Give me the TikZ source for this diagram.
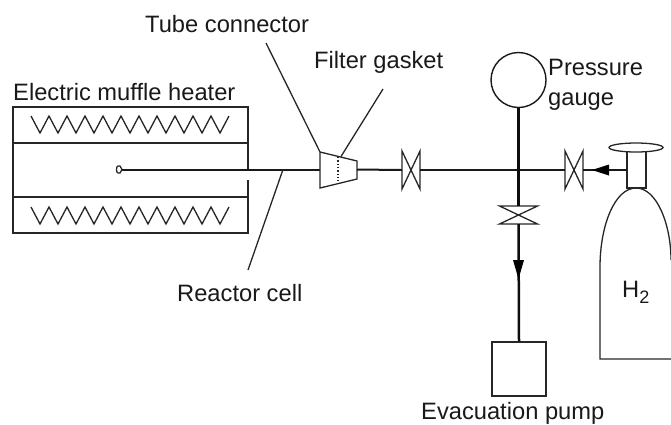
\documentclass[tikz,border=0pt]{standalone}
\usepackage{fontspec}
\setmainfont{Liberation Sans}
\usetikzlibrary{arrows.meta,shapes.geometric}
\tikzset{
  lbl/.style={inner sep=0pt,anchor=base west,font=\fontsize{23.7}{28}\selectfont,text=black!90},
  thin line/.style={draw=black!85,line width=1.3pt},
  mid line/.style={draw=black!90,line width=2pt},
  thick line/.style={draw=black!95,line width=2.5pt},
  hvalve/.style={inner sep=0pt,outer sep=0pt,minimum width=18pt,minimum height=38pt},
  vvalve/.style={inner sep=0pt,outer sep=0pt,minimum width=38pt,minimum height=18pt},
}
\begin{document}
\begin{tikzpicture}[x=1pt,y=-1pt]
\useasboundingbox (0,0) rectangle (671,424);
% labels
\node[lbl] (lheater) at (13,100) {Electric muffle heater};
\node[lbl] (ltube) at (145,32) {Tube connector};
\node[lbl] (lfilter) at (314,68) {Filter gasket};
\node[lbl] (lpress) at (548,75) {Pressure};
\node[lbl] (lgauge) at (548,105) {gauge};
\node[lbl] (lreactor) at (177,301) {Reactor cell};
\node[lbl] (lpump) at (421,419) {Evacuation pump};
\node[lbl] (lh) at (622,297) {H\raisebox{-6pt}{\fontsize{18}{20}\selectfont 2}};
% heater
\draw[thin line] (248,169) -- (248,107) -- (13,107) -- (13,233) -- (248,233) -- (248,180);
\draw[thin line] (13,143) -- (248,143);
\draw[thin line] (13,197) -- (248,197);
\draw[thin line] (31,116) -- ++(9,17) -- ++(9,-17) -- ++(9,17) -- ++(9,-17) -- ++(9,17) -- ++(9,-17) -- ++(9,17) -- ++(9,-17) -- ++(9,17) -- ++(9,-17) -- ++(9,17) -- ++(9,-17) -- ++(9,17) -- ++(9,-17) -- ++(9,17) -- ++(9,-17) -- ++(9,17) -- ++(9,-17) -- ++(9,17) -- ++(9,-17) -- ++(9,17) -- ++(9,-17);
\draw[thin line] (31,207) -- ++(9,17) -- ++(9,-17) -- ++(9,17) -- ++(9,-17) -- ++(9,17) -- ++(9,-17) -- ++(9,17) -- ++(9,-17) -- ++(9,17) -- ++(9,-17) -- ++(9,17) -- ++(9,-17) -- ++(9,17) -- ++(9,-17) -- ++(9,17) -- ++(9,-17) -- ++(9,17) -- ++(9,-17) -- ++(9,17) -- ++(9,-17) -- ++(9,17) -- ++(9,-17);
% reactor tube
\coordinate (tubeend) at (122,169.5);
\coordinate (reactpt) at (283,169.5);
\coordinate (conleft) at (320,169.5);
\coordinate (conright) at (357,169.5);
\draw[thin line] (tubeend) -- (120,166) -- (118,166) .. controls (116,166) and (116,173) .. (118,173) -- (120,173) -- (tubeend);
\draw[mid line] (tubeend) -- (conleft);
% connector
\coordinate (c1) at (320,152);
\coordinate (c2) at (357,161);
\coordinate (c3) at (357,179);
\coordinate (c4) at (320,188);
\coordinate (gasket) at (341,156.5);
\draw[thin line] (c1) -- (c2) -- (c3) -- (c4) -- cycle;
\draw[draw=black!85,dotted,line width=1.3pt] (338,157) -- (338,183);
% valves
\node[hvalve] (v1) at (411,170) {};
\node[hvalve] (v2) at (574,170) {};
\node[vvalve] (v3) at (518.5,215) {};
\foreach \v in {v1,v2}{
  \draw[thin line] (\v.north west) -- (\v.south east) -- (\v.north east) -- (\v.south west) -- cycle;
}
\draw[thin line] (v3.north west) -- (v3.south east) -- (v3.south west) -- (v3.north east) -- cycle;
% gauge and pump
\node[circle,draw=black!90,line width=1.4pt,minimum size=55pt,inner sep=0pt] (gaugec) at (518.5,80) {};
\node[draw=black!85,line width=1.3pt,minimum width=54pt,minimum height=54pt,inner sep=0pt] (pump) at (519,369) {};
% pipes
\draw[mid line] (conright) -- (v1.west);
\draw[mid line] (v1.east) -- (v2.west);
\draw[thick line] (gaugec.south) -- (v3.north);
\draw[thick line] (v3.south) -- (pump.north);
\draw[draw=none,fill=black] (513,260) -- (524,260) -- (518.5,279) -- cycle;
% leaders
\coordinate (lt) at (266,43);
\coordinate (lf) at (383,89);
\coordinate (lr) at (248,270);
\draw[thin line] (lt) -- (c1);
\draw[thin line] (lf) -- (gasket);
\draw[thin line] (lr) -- (reactpt);
% cylinder
\coordinate (neckL) at (627,170);
\node[ellipse,draw=black!85,line width=1.3pt,minimum width=54pt,minimum height=9pt,inner sep=0pt] (cap) at (636,147.5) {};
\draw[thin line] (627,152) -- (627,188) -- (646,188) -- (646,152);
\draw[thin line] (671,260) .. controls (671,225) and (657,188) .. (636,188) .. controls (615,188) and (600,225) .. (600,267) -- (600,359) -- (671,359);
\draw[mid line] (neckL) -- (v2.east);
\draw[draw=none,fill=black] (609,164.5) -- (609,175.5) -- (592,170) -- cycle;
\end{tikzpicture}
\end{document}
